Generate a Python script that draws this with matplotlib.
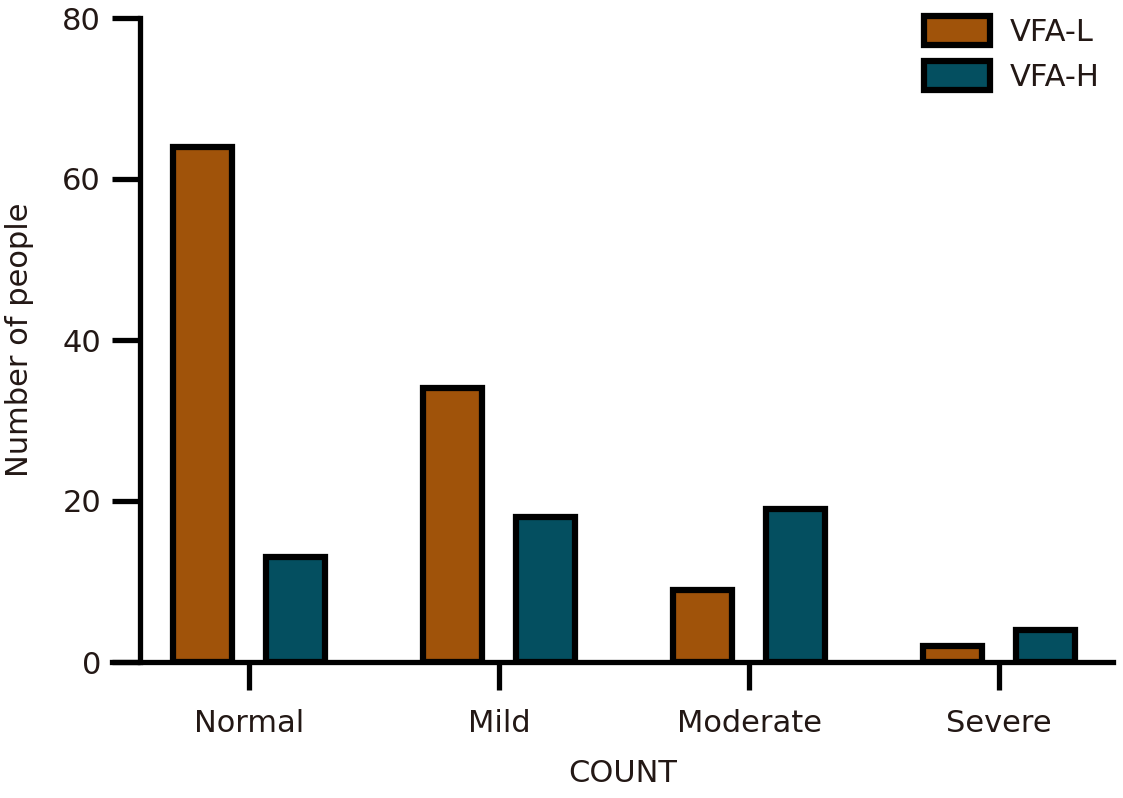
import matplotlib.pyplot as plt
import matplotlib.patches as mpatches
import numpy as np

categories = ["Normal", "Mild", "Moderate", "Severe"]
vfa_l = [64, 34, 9, 2]
vfa_h = [13, 18, 19, 4]
series_names = ["VFA-L", "VFA-H"]
colors = ["#A0530A", "#044F60"]

plt.rcParams['font.family'] = ['DejaVu Sans']
text_color = "#231815"

fig = plt.figure(figsize=(11.23, 7.98), dpi=100)
W, H = 1123, 798
ax = fig.add_axes([112 / W, 136 / H, (1113 - 112) / W, 644 / H])

x = np.arange(len(categories))
width = 0.235
offset = 0.186
ax.bar(x - offset, vfa_l, width, color=colors[0], edgecolor="black", linewidth=4.5, zorder=3)
ax.bar(x + offset, vfa_h, width, color=colors[1], edgecolor="black", linewidth=4.5, zorder=3)

ax.set_xlim(-0.548, 3.456)
ax.set_ylim(0, 80)
ax.set_yticks([0, 20, 40, 60, 80])
ax.set_xticks(x)
ax.set_xticklabels(categories)

for s in ["top", "right"]:
    ax.spines[s].set_visible(False)
ax.spines["left"].set_position(("axes", 28 / 1001))
ax.spines["left"].set_linewidth(3.8)
ax.spines["bottom"].set_linewidth(3.8)
ax.spines["bottom"].set_zorder(4)
ax.tick_params(axis="both", length=20, width=3.8, labelsize=22, colors="black",
               labelcolor=text_color)
ax.tick_params(axis="x", pad=14)
ax.tick_params(axis="y", pad=8)

fig.text(20 / W, 1 - 340 / H, "Number of people", fontsize=22, color=text_color,
         rotation=90, ha="center", va="center")
fig.text(623 / W, 1 - 773 / H, "COUNT", fontsize=22, color=text_color,
         ha="center", va="center")

handles = [mpatches.Patch(facecolor=c, edgecolor="black", linewidth=4.5, label=n)
           for c, n in zip(colors, series_names)]
leg = fig.legend(handles=handles, loc="upper left", bbox_to_anchor=(924 / W, 1 - 16 / H),
                 frameon=False, fontsize=22, handlelength=2.15, handleheight=1.1,
                 labelspacing=0.45, handletextpad=0.65, labelcolor=text_color,
                 borderaxespad=0, borderpad=0)

fig.savefig("out.png", dpi=100)
